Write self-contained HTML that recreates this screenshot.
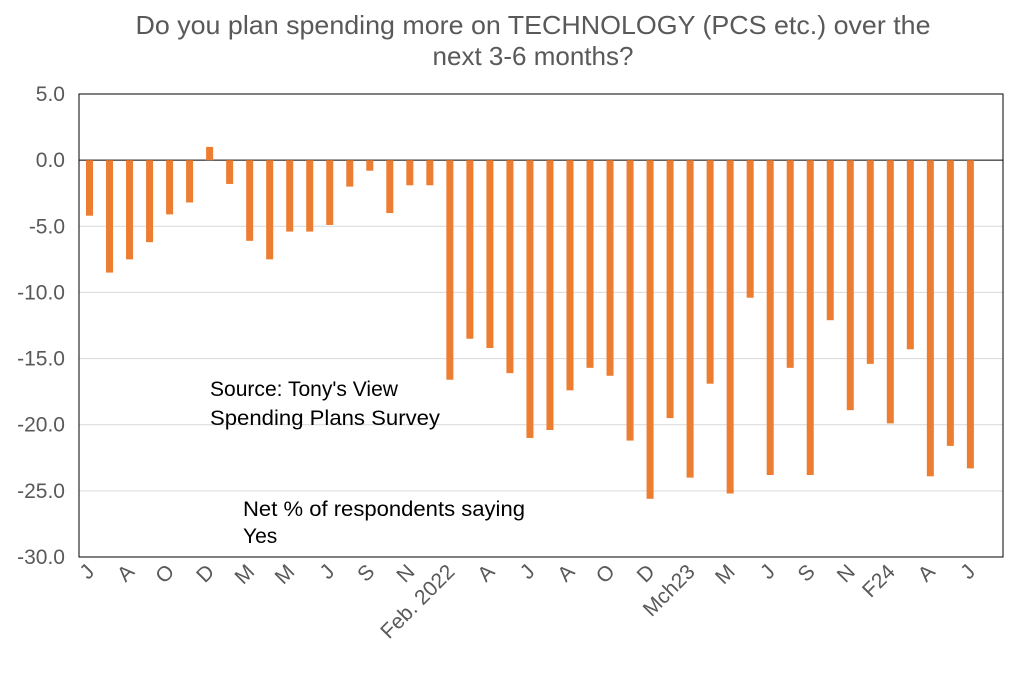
<!DOCTYPE html>
<html><head><meta charset="utf-8">
<style>
body{margin:0;background:#fff;font-family:"Liberation Sans",Arial,sans-serif;}
svg text{font-family:"Liberation Sans",Arial,sans-serif;}
</style></head>
<body>
<svg id="chart" width="1024" height="669" xmlns="http://www.w3.org/2000/svg">
<text x="533" y="34" font-size="26" fill="#595959" text-anchor="middle" textLength="795" lengthAdjust="spacingAndGlyphs">Do you plan spending more on TECHNOLOGY (PCS etc.) over the</text>
<text x="533" y="65" font-size="26" fill="#595959" text-anchor="middle">next 3-6 months?</text>
<g id="grid"></g>
<g id="bars"></g>
<g id="yticks"></g>
<g id="xticks"></g>
<rect x="79" y="94" width="924" height="463" fill="none" stroke="#000" stroke-width="1"/>
<text x="210" y="396" font-size="21" fill="#000" textLength="188" lengthAdjust="spacingAndGlyphs">Source: Tony's View</text>
<text x="210" y="425" font-size="21" fill="#000" textLength="230" lengthAdjust="spacingAndGlyphs">Spending Plans Survey</text>
<text x="243" y="516" font-size="21" fill="#000" textLength="282" lengthAdjust="spacingAndGlyphs">Net % of respondents saying</text>
<text x="243" y="543" font-size="21" fill="#000">Yes</text>
</svg>
<script>
const values=[-4.2,-8.5,-7.5,-6.2,-4.1,-3.2,1.0,-1.8,-6.1,-7.5,-5.4,-5.4,-4.9,-2.0,-0.8,-4.0,-1.9,-1.9,-16.6,-13.5,-14.2,-16.1,-21.0,-20.4,-17.4,-15.7,-16.3,-21.2,-25.6,-19.5,-24.0,-16.9,-25.2,-10.4,-23.8,-15.7,-23.8,-12.1,-18.9,-15.4,-19.9,-14.3,-23.9,-21.6,-23.3];
const xLabels=["J","A","O","D","M","M","J","S","N","Feb. 2022","A","J","A","O","D","Mch23","M","J","S","N","F24","A","J"];
const yTicks=[5,0,-5,-10,-15,-20,-25,-30];
const NS="http://www.w3.org/2000/svg";
const x0=79,x1=1003,y0=94,y1=557,ymax=5,ymin=-30;
const yS=v=>y0+(ymax-v)/(ymax-ymin)*(y1-y0);
const step=20.02;
const xS=i=>86+i*step;
const g=document.getElementById('grid'),b=document.getElementById('bars'),yt=document.getElementById('yticks'),xt=document.getElementById('xticks');
function el(t,a,p){const e=document.createElementNS(NS,t);for(const k in a)e.setAttribute(k,a[k]);p.appendChild(e);return e;}
yTicks.forEach(v=>{
  const l=el('line',{x1:x0,x2:x1,y1:yS(v),y2:yS(v),stroke:v===0?'#000':'#d9d9d9','stroke-width':1},g);
  
  
  const t=el('text',{x:x0-14,y:yS(v)+7,'font-size':21,fill:'#595959','text-anchor':'end'},yt);
  t.textContent=v.toFixed(1);
  
  
});
values.forEach((v,i)=>{
  const ya=yS(Math.max(v,0)),yb=yS(Math.min(v,0));
  const r=el('rect',{x:xS(i),y:ya,width:7,height:yb-ya,fill:'#ED7D31'},b);
  
  
});
xLabels.forEach((s,j)=>{
  const cx=xS(j*2)+3.5;
  const t=el('text',{x:cx+6,y:y1+16,'font-size':21,fill:'#595959','text-anchor':'end',transform:`rotate(-45 ${cx+6} ${y1+16})`},xt);
  t.textContent=s;
  
  
});
</script>
</body></html>
